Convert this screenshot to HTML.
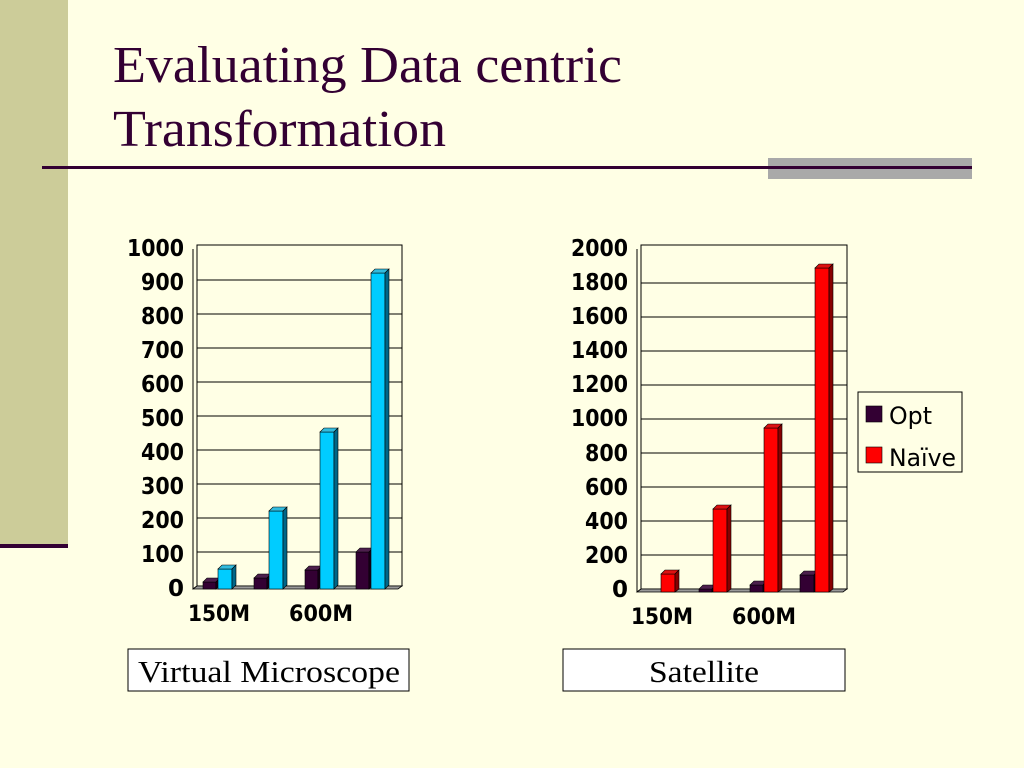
<!DOCTYPE html>
<html><head><meta charset="utf-8"><style>
html,body{margin:0;padding:0;background:#ffffe5;}
svg{display:block}
</style></head><body>
<svg width="1024" height="768" viewBox="0 0 1024 768" xmlns="http://www.w3.org/2000/svg">
<rect width="1024" height="768" fill="#ffffe5"/>
<rect x="0" y="0" width="68" height="545" fill="#cccc99"/>
<rect x="0" y="544" width="68" height="4" fill="#330033"/>
<rect x="768" y="158" width="204" height="21" fill="#a9a9a9"/>
<rect x="42" y="166" width="930" height="3" fill="#330033"/>
<g font-family="Liberation Serif, serif" font-size="52" fill="#330033">
<text x="113" y="82" textLength="509" lengthAdjust="spacingAndGlyphs">Evaluating Data centric</text>
<text x="113" y="146" textLength="333" lengthAdjust="spacingAndGlyphs">Transformation</text>
</g>

<!-- Chart 1 -->
<g stroke="#000" stroke-width="1" fill="none">
<polyline points="193,589 197,586 402,586 402,245 197,245 197,586"/>
<line x1="193" y1="249" x2="193" y2="589"/>
</g>
<g stroke="#000" stroke-width="1">
<line x1="197" y1="552" x2="402" y2="552"/><line x1="197" y1="518" x2="402" y2="518"/>
<line x1="197" y1="484" x2="402" y2="484"/><line x1="197" y1="450" x2="402" y2="450"/>
<line x1="197" y1="416" x2="402" y2="416"/><line x1="197" y1="382" x2="402" y2="382"/>
<line x1="197" y1="348" x2="402" y2="348"/><line x1="197" y1="314" x2="402" y2="314"/>
<line x1="197" y1="280" x2="402" y2="280"/>
</g>
<polygon points="193,589 398,589 402,586 197,586" fill="#999" stroke="#000" stroke-width="0.8"/>
<g font-family="DejaVu Sans, sans-serif" font-weight="bold" font-size="23" fill="#000" text-anchor="end">
<text x="184" y="256" textLength="57" lengthAdjust="spacingAndGlyphs">1000</text><text x="184" y="290" textLength="43" lengthAdjust="spacingAndGlyphs">900</text><text x="184" y="324" textLength="43" lengthAdjust="spacingAndGlyphs">800</text>
<text x="184" y="358" textLength="43" lengthAdjust="spacingAndGlyphs">700</text><text x="184" y="392" textLength="43" lengthAdjust="spacingAndGlyphs">600</text><text x="184" y="426" textLength="43" lengthAdjust="spacingAndGlyphs">500</text>
<text x="184" y="460" textLength="43" lengthAdjust="spacingAndGlyphs">400</text><text x="184" y="494" textLength="43" lengthAdjust="spacingAndGlyphs">300</text><text x="184" y="528" textLength="43" lengthAdjust="spacingAndGlyphs">200</text>
<text x="184" y="562" textLength="43" lengthAdjust="spacingAndGlyphs">100</text><text x="184" y="596">0</text>
</g>
<g font-family="DejaVu Sans, sans-serif" font-weight="bold" font-size="22" fill="#000">
<text x="188" y="621" textLength="62" lengthAdjust="spacingAndGlyphs">150M</text><text x="289" y="621" textLength="64" lengthAdjust="spacingAndGlyphs">600M</text>
</g>
<g stroke="#000" stroke-width="0.6">
<rect x="203" y="582" width="13" height="7" fill="#330033"/><polygon points="203,582 207,578 220,578 216,582" fill="#4d1f4d"/><polygon points="216,582 220,578 220,585 216,589" fill="#1a001a"/>
<rect x="254" y="578" width="13" height="11" fill="#330033"/><polygon points="254,578 258,574 271,574 267,578" fill="#4d1f4d"/><polygon points="267,578 271,574 271,585 267,589" fill="#1a001a"/>
<rect x="305" y="570" width="13" height="19" fill="#330033"/><polygon points="305,570 309,566 322,566 318,570" fill="#4d1f4d"/><polygon points="318,570 322,566 322,585 318,589" fill="#1a001a"/>
<rect x="356" y="552" width="13" height="37" fill="#330033"/><polygon points="356,552 360,548 373,548 369,552" fill="#4d1f4d"/><polygon points="369,552 373,548 373,585 369,589" fill="#1a001a"/>
<rect x="218" y="569" width="14" height="20" fill="#00ccff"/><polygon points="218,569 222,565 236,565 232,569" fill="#33bbdd"/><polygon points="232,569 236,565 236,585 232,589" fill="#006688"/>
<rect x="269" y="511" width="14" height="78" fill="#00ccff"/><polygon points="269,511 273,507 287,507 283,511" fill="#33bbdd"/><polygon points="283,511 287,507 287,585 283,589" fill="#006688"/>
<rect x="320" y="432" width="14" height="157" fill="#00ccff"/><polygon points="320,432 324,428 338,428 334,432" fill="#33bbdd"/><polygon points="334,432 338,428 338,585 334,589" fill="#006688"/>
<rect x="371" y="273" width="14" height="316" fill="#00ccff"/><polygon points="371,273 375,269 389,269 385,273" fill="#33bbdd"/><polygon points="385,273 389,269 389,585 385,589" fill="#006688"/>
</g>
<rect x="128" y="649" width="281" height="42" fill="#fff" stroke="#000" stroke-width="1"/>
<text x="138" y="682" font-family="Liberation Serif, serif" font-size="31" fill="#000" textLength="262" lengthAdjust="spacingAndGlyphs">Virtual Microscope</text>

<!-- Chart 2 -->
<g stroke="#000" stroke-width="1" fill="none">
<polyline points="637,592 641,589 847,589 847,245 641,245 641,589"/>
<line x1="637" y1="249" x2="637" y2="592"/>
</g>
<g stroke="#000" stroke-width="1">
<line x1="641" y1="555" x2="847" y2="555"/><line x1="641" y1="521" x2="847" y2="521"/>
<line x1="641" y1="487" x2="847" y2="487"/><line x1="641" y1="453" x2="847" y2="453"/>
<line x1="641" y1="419" x2="847" y2="419"/><line x1="641" y1="385" x2="847" y2="385"/>
<line x1="641" y1="351" x2="847" y2="351"/><line x1="641" y1="317" x2="847" y2="317"/>
<line x1="641" y1="283" x2="847" y2="283"/>
</g>
<polygon points="637,592 843,592 847,589 641,589" fill="#999" stroke="#000" stroke-width="0.8"/>
<g font-family="DejaVu Sans, sans-serif" font-weight="bold" font-size="23" fill="#000" text-anchor="end">
<text x="628" y="256" textLength="57" lengthAdjust="spacingAndGlyphs">2000</text><text x="628" y="290" textLength="57" lengthAdjust="spacingAndGlyphs">1800</text><text x="628" y="324" textLength="57" lengthAdjust="spacingAndGlyphs">1600</text>
<text x="628" y="358" textLength="57" lengthAdjust="spacingAndGlyphs">1400</text><text x="628" y="392" textLength="57" lengthAdjust="spacingAndGlyphs">1200</text><text x="628" y="426" textLength="57" lengthAdjust="spacingAndGlyphs">1000</text>
<text x="628" y="461" textLength="43" lengthAdjust="spacingAndGlyphs">800</text><text x="628" y="495" textLength="43" lengthAdjust="spacingAndGlyphs">600</text><text x="628" y="529" textLength="43" lengthAdjust="spacingAndGlyphs">400</text>
<text x="628" y="563" textLength="43" lengthAdjust="spacingAndGlyphs">200</text><text x="628" y="597">0</text>
</g>
<g font-family="DejaVu Sans, sans-serif" font-weight="bold" font-size="22" fill="#000">
<text x="631" y="624" textLength="62" lengthAdjust="spacingAndGlyphs">150M</text><text x="732" y="624" textLength="64" lengthAdjust="spacingAndGlyphs">600M</text>
</g>
<g stroke="#000" stroke-width="0.6">
<rect x="699" y="589" width="13" height="3" fill="#330033"/><polygon points="699,589 703,585 716,585 712,589" fill="#4d1f4d"/><polygon points="712,589 716,585 716,589 712,592" fill="#1a001a"/>
<rect x="750" y="585" width="13" height="7" fill="#330033"/><polygon points="750,585 754,581 767,581 763,585" fill="#4d1f4d"/><polygon points="763,585 767,581 767,589 763,592" fill="#1a001a"/>
<rect x="800" y="575" width="14" height="17" fill="#330033"/><polygon points="800,575 804,571 818,571 814,575" fill="#4d1f4d"/><polygon points="814,575 818,571 818,589 814,592" fill="#1a001a"/>
<rect x="661" y="574" width="14" height="18" fill="#ff0000"/><polygon points="661,574 665,570 679,570 675,574" fill="#dd1111"/><polygon points="675,574 679,570 679,589 675,592" fill="#880000"/>
<rect x="713" y="509" width="14" height="83" fill="#ff0000"/><polygon points="713,509 717,505 731,505 727,509" fill="#dd1111"/><polygon points="727,509 731,505 731,589 727,592" fill="#880000"/>
<rect x="764" y="428" width="14" height="164" fill="#ff0000"/><polygon points="764,428 768,424 782,424 778,428" fill="#dd1111"/><polygon points="778,428 782,424 782,589 778,592" fill="#880000"/>
<rect x="815" y="268" width="14" height="324" fill="#ff0000"/><polygon points="815,268 819,264 833,264 829,268" fill="#dd1111"/><polygon points="829,268 833,264 833,589 829,592" fill="#880000"/>
</g>
<rect x="858" y="392" width="104" height="80" fill="#ffffe5" stroke="#000" stroke-width="1"/>
<rect x="866" y="406" width="16" height="16" fill="#330033" stroke="#000" stroke-width="0.6"/>
<rect x="866" y="447" width="16" height="16" fill="#ff0000" stroke="#000" stroke-width="0.6"/>
<g font-family="DejaVu Sans, sans-serif" font-size="24" fill="#000">
<text x="889" y="424" textLength="43" lengthAdjust="spacingAndGlyphs">Opt</text><text x="889" y="466" textLength="67" lengthAdjust="spacingAndGlyphs">Naïve</text>
</g>
<rect x="563" y="649" width="282" height="42" fill="#fff" stroke="#000" stroke-width="1"/>
<text x="649" y="682" font-family="Liberation Serif, serif" font-size="31" fill="#000" textLength="110" lengthAdjust="spacingAndGlyphs">Satellite</text>
</svg>
</body></html>
